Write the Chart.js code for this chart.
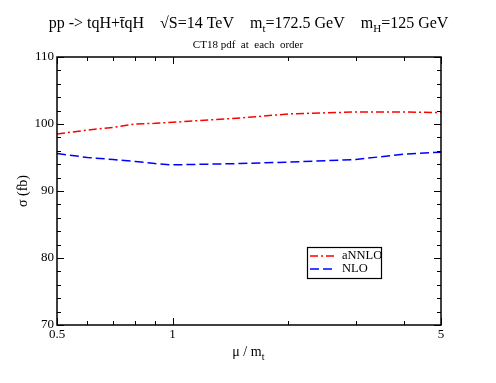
<!DOCTYPE html>
<html>
<head>
<meta charset="utf-8">
<script src="https://cdn.jsdelivr.net/npm/chart.js@4"></script>
<style>
  html, body { margin: 0; padding: 0; background: #fff; }
  #wrap { width: 496px; height: 383px; }
</style>
</head>
<body>
<div id="wrap"><canvas id="xsecChart" width="496" height="383"></canvas></div>
<script>
// valores
const muValues = [0.5, 0.6, 0.7, 0.8, 0.9, 1, 1.5, 2, 3, 4, 5];
const annloValues = [98.5, 99.1, 99.5, 100.0, 100.1, 100.25, 100.9, 101.5, 101.8, 101.8, 101.7];
const nloValues = [95.6, 95.0, 94.7, 94.4, 94.1, 93.9, 94.1, 94.3, 94.7, 95.5, 95.8];
const seriesLabels = ['aNNLO', 'NLO'];

const xMajorTicks = [0.5, 1, 5];
const xMinorTicks = [0.6, 0.7, 0.8, 0.9, 2, 3, 4];
const yMajorTicks = [70, 80, 90, 100, 110];
const yMinorTicks = [72, 74, 76, 78, 82, 84, 86, 88, 92, 94, 96, 98, 102, 104, 106, 108];

const serif = '"Liberation Serif", "DejaVu Serif", serif';

// marco, ticks hacia dentro, etiquetas, titulos y leyenda
const framePlugin = {
    id: 'frame',
    afterDraw(chart) {
        const ctx = chart.ctx;
        const area = chart.chartArea;
        const xs = chart.scales.x;
        const ys = chart.scales.y;
        ctx.save();

        ctx.strokeStyle = '#000';
        ctx.lineWidth = 1.5;
        ctx.strokeRect(area.left, area.top, area.right - area.left, area.bottom - area.top);

        ctx.lineWidth = 1;
        ctx.beginPath();
        const xTick = (v, len) => {
            const px = Math.round(xs.getPixelForValue(v)) + 0.5;
            ctx.moveTo(px, area.bottom); ctx.lineTo(px, area.bottom - len);
            ctx.moveTo(px, area.top); ctx.lineTo(px, area.top + len);
        };
        const yTick = (v, len) => {
            const py = Math.round(ys.getPixelForValue(v)) + 0.5;
            ctx.moveTo(area.left, py); ctx.lineTo(area.left + len, py);
            ctx.moveTo(area.right, py); ctx.lineTo(area.right - len, py);
        };
        xMajorTicks.forEach(v => xTick(v, 7));
        xMinorTicks.forEach(v => xTick(v, 4));
        yMajorTicks.forEach(v => yTick(v, 7));
        yMinorTicks.forEach(v => yTick(v, 4));
        ctx.stroke();

        // etiquetas de los ejes
        ctx.fillStyle = '#000';
        ctx.font = '13px ' + serif;
        ctx.textAlign = 'center';
        ctx.textBaseline = 'top';
        xMajorTicks.forEach(v => ctx.fillText(String(v), xs.getPixelForValue(v), area.bottom + 3));
        ctx.textAlign = 'right';
        ctx.textBaseline = 'middle';
        yMajorTicks.forEach(v => ctx.fillText(String(v), area.left - 3, ys.getPixelForValue(v)));

        // titulo del eje x: mu / m_t
        ctx.font = '14px ' + serif;
        ctx.textAlign = 'left';
        ctx.textBaseline = 'alphabetic';
        const xt = '\u03bc / m';
        const xtw = ctx.measureText(xt).width;
        const cx = (area.left + area.right) / 2 + 1;
        ctx.fillText(xt, cx - xtw / 2 - 3, 356);
        ctx.font = '10px ' + serif;
        ctx.fillText('t', cx + xtw / 2 - 3, 360);

        // titulo del eje y
        ctx.save();
        ctx.translate(27, (area.top + area.bottom) / 2);
        ctx.rotate(-Math.PI / 2);
        ctx.font = '14px ' + serif;
        ctx.textAlign = 'center';
        ctx.fillText('\u03c3 (fb)', 0, 0);
        ctx.restore();

        // titulo principal con subindices
        const parts = [
            { t: 'pp -> tqH+t\u0304qH', s: 16, dy: 0 },
            { t: '    \u221aS=14 TeV', s: 16, dy: 0 },
            { t: '    m', s: 16, dy: 0 },
            { t: 't', s: 11, dy: 4 },
            { t: '=172.5 GeV', s: 16, dy: 0 },
            { t: '    m', s: 16, dy: 0 },
            { t: 'H', s: 11, dy: 4 },
            { t: '=125 GeV', s: 16, dy: 0 }
        ];
        let total = 0;
        parts.forEach(p => { ctx.font = p.s + 'px ' + serif; p.w = ctx.measureText(p.t).width; total += p.w; });
        let tx = 248.5 - total / 2;
        parts.forEach(p => {
            ctx.font = p.s + 'px ' + serif;
            ctx.fillText(p.t, tx, 28 + p.dy);
            tx += p.w;
        });
        ctx.font = '11px ' + serif;
        ctx.textAlign = 'center';
        ctx.fillText('CT18 pdf  at  each  order', 248, 48);

        // leyenda
        const lx = 307, ly = 247, lw = 74, lh = 31;
        ctx.fillStyle = '#fff';
        ctx.fillRect(lx, ly, lw, lh);
        ctx.lineWidth = 1.2;
        ctx.strokeStyle = '#000';
        ctx.strokeRect(lx + 0.5, ly + 0.5, lw, lh);
        chart.data.datasets.forEach((ds, i) => {
            const yy = ly + 9 + i * 13;
            ctx.strokeStyle = ds.borderColor;
            ctx.lineWidth = ds.borderWidth;
            ctx.setLineDash(ds.borderDash);
            ctx.beginPath();
            ctx.moveTo(lx + 3, yy);
            ctx.lineTo(lx + 27, yy);
            ctx.stroke();
            ctx.setLineDash([]);
            ctx.fillStyle = '#000';
            ctx.font = '12.5px ' + serif;
            ctx.textAlign = 'left';
            ctx.textBaseline = 'middle';
            ctx.fillText(ds.label, lx + 35, yy);
        });
        ctx.restore();
    }
};

const ctx1 = document.getElementById('xsecChart').getContext('2d');
const xsecChart = new Chart(ctx1, {
    type: 'line',
    data: {
        datasets: [
            {
                label: seriesLabels[0],
                data: muValues.map((m, i) => ({ x: m, y: annloValues[i] })),
                borderColor: '#ff0000',
                borderWidth: 1.5,
                borderDash: [8, 3, 2, 3],
                pointRadius: 0,
                fill: false,
                tension: 0
            },
            {
                label: seriesLabels[1],
                data: muValues.map((m, i) => ({ x: m, y: nloValues[i] })),
                borderColor: '#0000ff',
                borderWidth: 1.5,
                borderDash: [9, 4],
                pointRadius: 0,
                fill: false,
                tension: 0
            }
        ]
    },
    options: {
        responsive: false,
        animation: false,
        layout: { padding: { left: 57, top: 57, right: 55, bottom: 58 } },
        plugins: {
            legend: { display: false },
            tooltip: { enabled: false }
        },
        scales: {
            x: { type: 'logarithmic', min: 0.5, max: 5, display: false },
            y: { type: 'linear', min: 70, max: 110, display: false }
        }
    },
    plugins: [framePlugin]
});
</script>
</body>
</html>
